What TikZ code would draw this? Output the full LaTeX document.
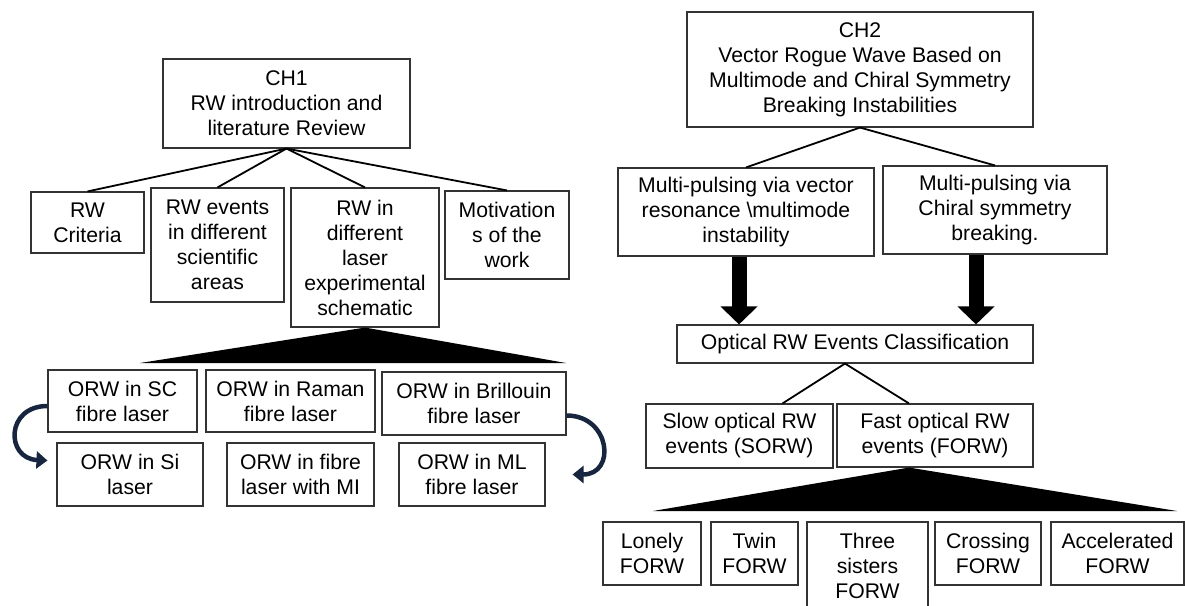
\documentclass[tikz,border=0pt]{standalone}
\usepackage{fontspec}
\setmainfont{Liberation Sans}
\usepackage{tikz}
\usetikzlibrary{calc}
\usetikzlibrary{arrows.meta}

\definecolor{arrownavy}{RGB}{22,38,64}

\tikzset{
  box/.style={draw=black!80, line width=1.1pt, align=center, inner sep=0pt,
    font=\fontsize{21.2}{25}\selectfont},
  sz/.style 2 args={minimum width=#1pt, minimum height=#2pt},
  link/.style={line width=1.8pt},
  bendarrow/.style={line width=4.5pt, draw=arrownavy, -{Triangle[length=11pt,width=17pt]}},
  fatarrow/.style={line width=15pt, -{Triangle[length=18pt,width=36pt]}},
}

\begin{document}
\begin{tikzpicture}[x=1pt,y=-1pt]
				\useasboundingbox (0,0) rectangle (1185,605);

				% CH1 side
				\node[box, sz={247}{89}] (ch1) at (286.5,103.5) {CH1\\RW introduction and\\literature Review};
				\node[box, sz={113}{61}] (crit) at (87.5,222.5) {RW\\Criteria};
				\node[box, sz={133}{114}] (events) at (217.5,245) {RW events\\in different\\scientific\\areas};
				\node[box, sz={148}{139}] (rwin) at (365,257.5) {RW in\\different\\laser\\experimental\\schematic};
				\node[box, sz={124}{88}] (motiv) at (507,235) {Motivation\\s of the\\work};

				\node[box, sz={149}{62}] (sc) at (122.5,401) {ORW in SC\\fibre laser};
				\node[box, sz={169}{62}] (raman) at (290.5,401) {ORW in Raman\\fibre laser};
				\node[box, sz={184}{63}] (brill) at (474,403.5) {ORW in Brillouin\\fibre laser};
				\node[box, sz={146}{63}] (si) at (130,474.5) {ORW in Si\\laser};
				\node[box, sz={147}{63}] (mi) at (300.5,474.5) {ORW in fibre\\laser with MI};
				\node[box, sz={146}{63}] (ml) at (472,474.5) {ORW in ML\\fibre laser};

				\draw[link] (ch1.south)--(crit.north);
				\draw[link] (ch1.south)--(events.north);
				\draw[link] (ch1.south)--(rwin.north);
				\draw[link] (ch1.south)--(motiv.north);

				\coordinate(l1) at (140,363);
				\coordinate(r1) at (566,363);
				\fill (rwin.south)--(l1)--(r1)--cycle;

				\draw[bendarrow] ([yshift=-5pt]sc.west) .. controls +(-42,0) and +(-42,-2) .. ([xshift=-9pt,yshift=14pt]si.west);
				\draw[bendarrow] ([yshift=-12pt]brill.east) .. controls +(44,0) and +(44,0) .. ([xshift=27pt]ml.east);

				% CH2 side
				\node[box, sz={346}{115}] (ch2) at (860,69.5) {CH2\\Vector Rogue Wave Based on\\Multimode and Chiral Symmetry\\Breaking Instabilities};
				\node[box, sz={256}{88}] (mpl) at (746,212) {Multi-pulsing via vector\\resonance \textbackslash multimode\\instability};
				\node[box, sz={224}{88}] (mpr) at (995,210) {Multi-pulsing via\\Chiral symmetry\\breaking.};
				\node[box, sz={356}{38}] (cls) at (855,344) {Optical RW Events Classification};
				\node[box, sz={187}{64}] (slow) at (739.5,436) {Slow optical RW\\events (SORW)};
				\node[box, sz={196}{63}] (fast) at (935,435.5) {Fast optical RW\\events (FORW)};

				\node[box, sz={98}{63}] (lonely) at (652,553.5) {Lonely\\FORW};
				\node[box, sz={87}{63}] (twin) at (754.5,553.5) {Twin\\FORW};
				\node[box, sz={121}{88}] (three) at (867.5,566) {Three\\sisters\\FORW};
				\node[box, sz={106}{63}] (cross) at (988,553.5) {Crossing\\FORW};
				\node[box, sz={133}{63}] (accel) at (1117.5,553.5) {Accelerated\\FORW};

				\draw[link] (ch2.south)--(mpl.north);
				\draw[link] (ch2.south)--(mpr.north);

				\draw[fatarrow] ([xshift=-7pt]mpl.south)--([xshift=-7pt]mpl.south |- cls.north);
				\draw[fatarrow] ([xshift=-19pt]mpr.south)--([xshift=-19pt]mpr.south |- cls.north);

				\draw[link] ([xshift=-10pt]cls.south)--([xshift=43pt]slow.north);
				\draw[link] ([xshift=-10pt]cls.south)--([xshift=-26pt]fast.north);

				\coordinate(l2) at (653,511);
				\coordinate(r2) at (1177,511);
				\fill ([xshift=-26pt]fast.south)--(l2)--(r2)--cycle;

			\end{tikzpicture}
\end{document}
